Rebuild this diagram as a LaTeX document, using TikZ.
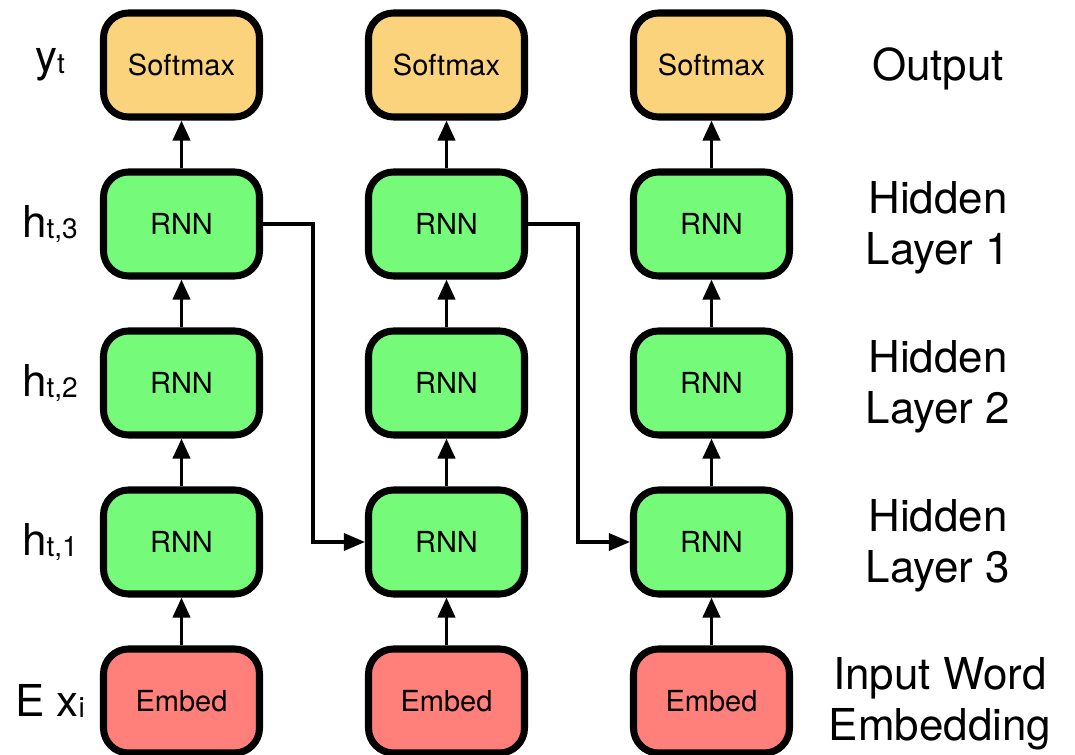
\documentclass[tikz,border=0pt]{standalone}
\usepackage{fontspec}
\setmainfont{TeX Gyre Heros}
\usetikzlibrary{arrows.meta}
\definecolor{softcol}{RGB}{252,211,125}
\definecolor{rnncol}{RGB}{117,250,122}
\definecolor{embedcol}{RGB}{255,128,122}
\newcommand{\sublab}[2]{#1{\fontsize{16}{18}\selectfont\raisebox{-1pt}{#2}}}

\begin{document}
\begin{tikzpicture}[
        box/.style={draw, line width=4pt, rounded corners=0.5cm, minimum width=3.12cm, minimum height=2.08cm, inner sep=0pt, font=\fontsize{16.5}{19}\selectfont},
        softmax/.style={box, fill=softcol},
        rnn/.style={box, fill=rnncol},
        embed/.style={box, fill=embedcol},
        lbl/.style={align=center, font=\fontsize{25}{29}\selectfont}]
                \useasboundingbox (0,0) rectangle (21.5,15.1);
                % first column
                \node[softmax] (S1) at (3.63,13.8) {Softmax};
                \node[rnn] (R31) at (3.63,10.62) {RNN};
                \node[rnn] (R21) at (3.63,7.44) {RNN};
                \node[rnn] (R11) at (3.63,4.26) {RNN};
                \node[embed] (E1) at (3.63,1.08) {Embed};
                % second column
                \node[softmax] (S2) at (8.93,13.8) {Softmax};
                \node[rnn] (R32) at (8.93,10.62) {RNN};
                \node[rnn] (R22) at (8.93,7.44) {RNN};
                \node[rnn] (R12) at (8.93,4.26) {RNN};
                \node[embed] (E2) at (8.93,1.08) {Embed};
                % third column
                \node[softmax] (S3) at (14.23,13.8) {Softmax};
                \node[rnn] (R33) at (14.23,10.62) {RNN};
                \node[rnn] (R23) at (14.23,7.44) {RNN};
                \node[rnn] (R13) at (14.23,4.26) {RNN};
                \node[embed] (E3) at (14.23,1.08) {Embed};
                % labels
                \node[lbl] (Ly) at (1.0,13.8) {\sublab{y}{t}};
                \node[lbl] (Lh3) at (1.0,10.62) {\sublab{h}{t,3}};
                \node[lbl] (Lh2) at (1.0,7.44) {\sublab{h}{t,2}};
                \node[lbl] (Lh1) at (1.0,4.26) {\sublab{h}{t,1}};
                \node[lbl] (Lx) at (1.0,1.08) {E \sublab{x}{i}};
                \node[lbl] (Out) at (18.76,13.72) {Output};
                \node[lbl] (H1) at (18.76,10.54) {Hidden\\Layer 1};
                \node[lbl] (H2) at (18.76,7.36) {Hidden\\Layer 2};
                \node[lbl] (H3) at (18.76,4.18) {Hidden\\Layer 3};
                \node[lbl] (In) at (18.8,1.02) {Input Word\\Embedding};
                \begin{scope}[every path/.style={line width=2.2pt, -{Triangle[length=0.4cm,width=0.34cm]}}]
                        \path (E1) edge (R11);
                        \path (R11) edge (R21);
                        \path (R21) edge (R31);
                        \path (R31) edge (S1);
                        \path (E2) edge (R12);
                        \path (R12) edge (R22);
                        \path (R22) edge (R32);
                        \path (R32) edge (S2);
                        \path (E3) edge (R13);
                        \path (R13) edge (R23);
                        \path (R23) edge (R33);
                        \path (R33) edge (S3);
                \end{scope}
                \begin{scope}[every path/.style={line width=1.9pt, -{Triangle[length=0.42cm,width=0.34cm]}}]
                        \draw (R31.east) -- ++(1.0,0) |- (R12.west);
                        \draw (R32.east) -- ++(1.0,0) |- (R13.west);
                \end{scope}
        \end{tikzpicture}
\end{document}
